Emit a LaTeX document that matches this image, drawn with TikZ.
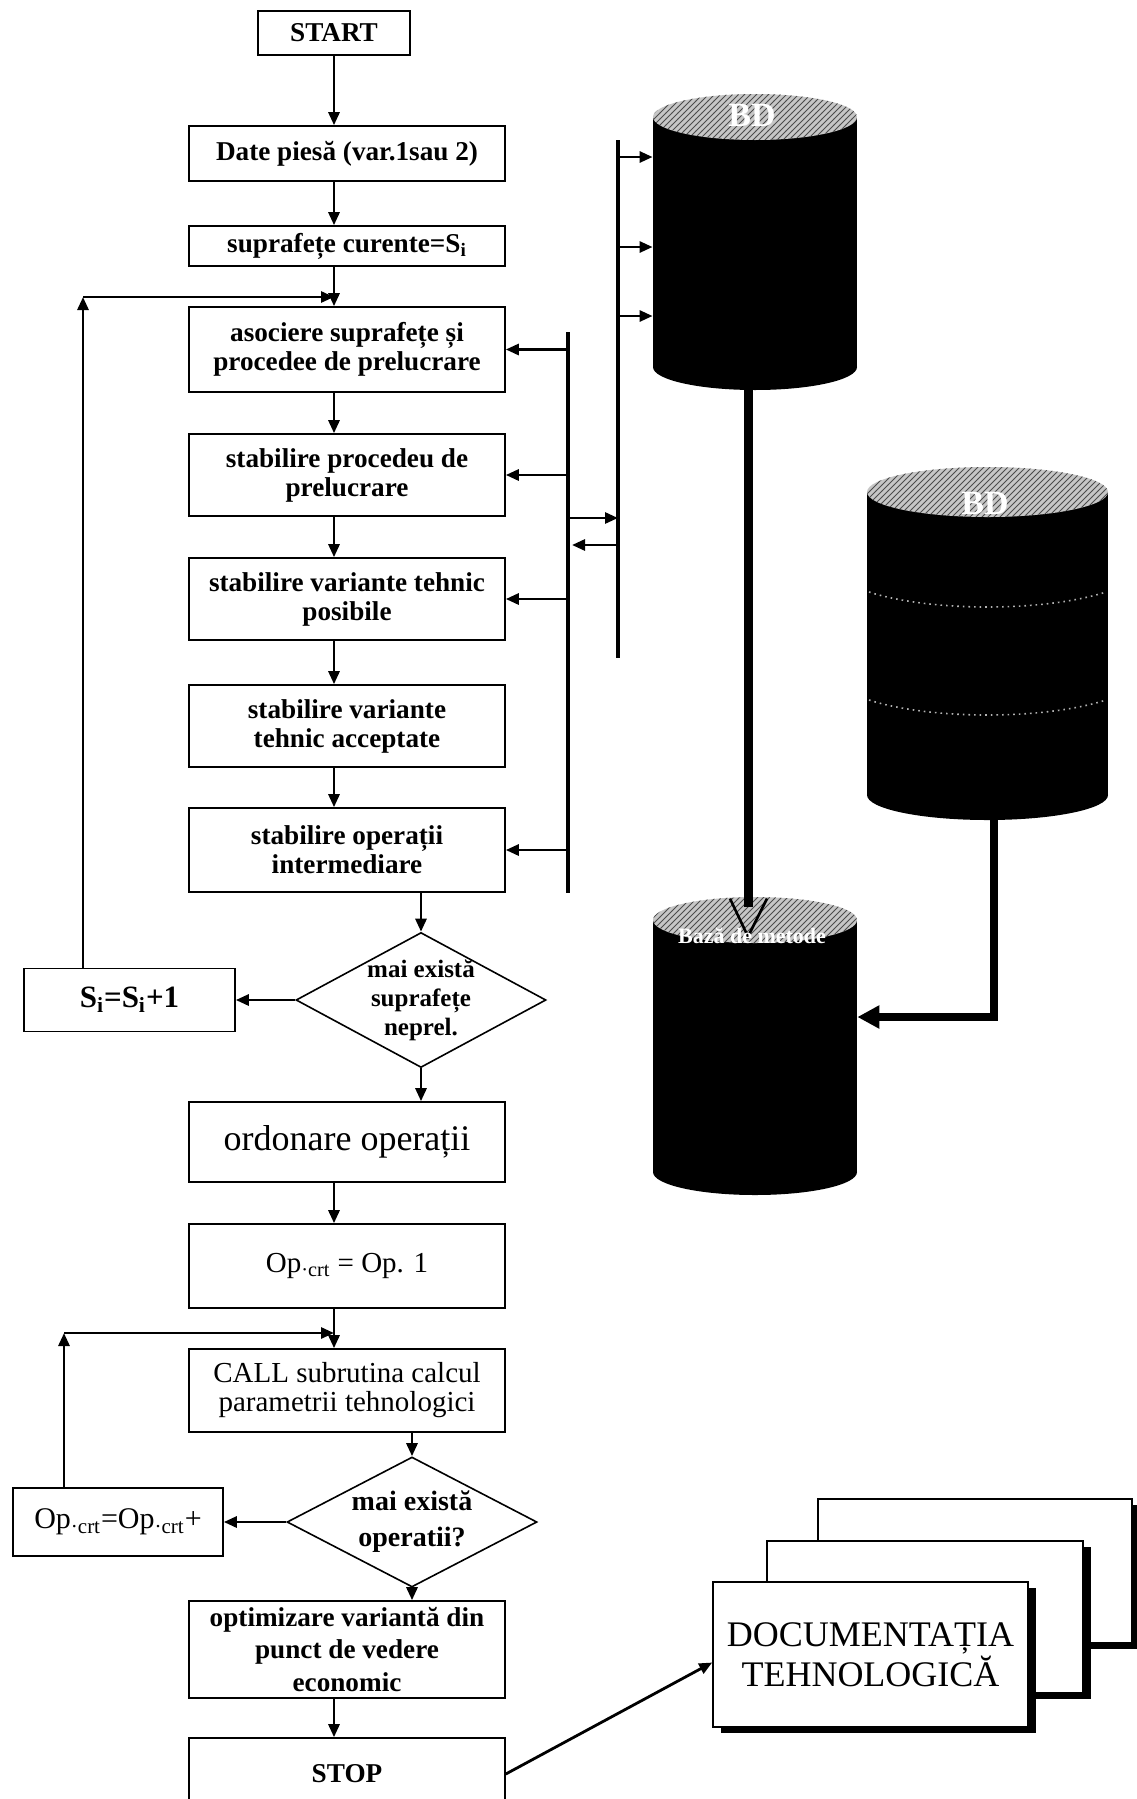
\documentclass[tikz,border=0pt]{standalone}
\usepackage{fontspec}
\setmainfont{Liberation Serif}
\usetikzlibrary{arrows.meta,shapes.geometric,shadows,patterns}

\begin{document}
\begin{tikzpicture}[x=0.5pt, y=-0.5pt, >={Triangle[length=6.5pt,width=5.5pt]},
	every node/.style={font=\fontsize{14.5}{14.5}\selectfont, align=center},
	heavy/.style={font=\bfseries\fontsize{13.6}{14.5}\selectfont},
	box/.style={draw, line width=0.8pt, fill=white, minimum width=158pt, inner sep=2pt},
	test/.style={draw, line width=0.8pt, shape=diamond, inner sep=0pt},
	flow/.style={->, line width=1.4pt},
	bus/.style={line width=1.6pt},
	pipe/.style={line width=4.5pt},
	sheet/.style={draw, line width=0.8pt, fill=white, minimum width=157pt, minimum height=72pt,
		drop shadow={shadow xshift=4pt, shadow yshift=-3pt, fill=black, opacity=1}}]
	\useasboundingbox (0,0) rectangle (1136,1799);
	% main column
	\node[box, heavy, minimum width=76pt, minimum height=22pt] (start) at (334,33) {START};
	\node[box, heavy, minimum height=27.5pt] (date) at (347,153.5) {Date piesă (var.1sau 2)};
	\node[box, heavy, minimum height=20pt] (supr) at (347,246) {suprafețe curente=S\textsubscript{i}};
	\node[box, heavy, minimum height=42.5pt] (asoc) at (347,349.5) {asociere suprafețe și\\procedee de prelucrare};
	\node[box, heavy, minimum height=41pt] (proc) at (347,475) {stabilire procedeu de\\prelucrare};
	\node[box, heavy, minimum height=41pt] (posib) at (347,599) {stabilire variante tehnic\\posibile};
	\node[box, heavy, minimum height=41pt] (accept) at (347,726) {stabilire variante\\tehnic acceptate};
	\node[box, heavy, minimum height=42pt] (interm) at (347,850) {stabilire operații\\intermediare};
	\node[test, minimum width=125pt, minimum height=67.5pt] (more1) at (421,1000) {};
	\node[font=\bfseries\fontsize{12.5}{14.5}\selectfont] (more1txt) at (more1) {mai există\\suprafețe\\neprel.};
	\node[box, minimum width=105.5pt, minimum height=31.5pt, font=\bfseries\fontsize{15.5}{16}\selectfont] (incs) at (129.5,1000) {S\textsubscript{i}=S\textsubscript{i}+1};
	\node[box, minimum height=40pt, font=\fontsize{18}{18}\selectfont] (order) at (347,1142) {ordonare operații};
	\node[box, minimum height=42pt] (opone) at (347,1266) {Op\textsubscript{·crt} = Op. 1};
	\node[box, minimum height=41.5pt] (call) at (347,1390.5) {CALL subrutina calcul\\parametrii tehnologici};
	\node[test, minimum width=125pt, minimum height=65pt] (more2) at (412,1522) {};
	\node[font=\bfseries\fontsize{14}{18}\selectfont] (more2txt) at (more2) {mai există\\operatii?};
	\node[box, minimum width=105pt, minimum height=34pt, font=\fontsize{15}{15}\selectfont] (incop) at (118,1522) {Op\textsubscript{·crt}=Op\textsubscript{·crt}+};
	\node[box, minimum height=48.5pt, font=\bfseries\fontsize{13.6}{16.4}\selectfont] (optim) at (347,1649.5) {optimizare variantă din\\punct de vedere\\economic};
	\node[box, heavy, minimum height=36pt] (stop) at (347,1774) {STOP};
	\coordinate (loop1) at (83,297);
	\coordinate (loop2) at (64,1333);
	\draw[flow] (start.south) -- (start.south |- date.north);
	\draw[flow] (date.south -| start) -- (supr.north -| start);
	\draw[flow] (supr.south -| start) -- (asoc.north -| start);
	\draw[flow] (incs.north -| loop1) -- (loop1);
	\draw[flow] (loop1) -- (loop1 -| start);
	\draw[flow] (asoc.south -| start) -- (proc.north -| start);
	\draw[flow] (proc.south -| start) -- (posib.north -| start);
	\draw[flow] (posib.south -| start) -- (accept.north -| start);
	\draw[flow] (accept.south -| start) -- (interm.north -| start);
	\draw[flow] (interm.south -| more1) -- (more1.north);
	\draw[flow] (more1.west) -- (incs.east);
	\draw[flow] (more1.south) -- (order.north -| more1);
	\draw[flow] (order.south -| start) -- (opone.north -| start);
	\draw[flow] (opone.south -| start) -- (call.north -| start);
	\draw[flow] (incop.north -| loop2) -- (loop2);
	\draw[flow] (loop2) -- (loop2 -| start);
	\draw[flow] (call.south -| more2) -- (more2.north);
	\draw[flow] (more2.west) -- (incop.east);
	\draw[flow] (more2.south) -- (optim.north -| more2);
	\draw[flow] (optim.south -| start) -- (stop.north -| start);
	% data buses
	\coordinate (busL) at (568,332);
	\coordinate (busR) at (618,140);
	\draw[bus] (busL) -- (568,893);
	\draw[bus] (busR) -- (618,658);
	\foreach \b in {asoc,proc,posib,interm}
		\draw[flow] (\b.east -| busL) -- (\b.east);
	\draw[flow] (busL |- 0,518) -- (busR |- 0,518);
	\draw[flow] (busR |- 0,545) -- ([xshift=2pt]busL |- 0,545);
	% data bases
	\node[minimum width=102pt, minimum height=148pt, inner sep=0pt] (bdA) at (755,242) {};
	\node[minimum width=120.5pt, minimum height=176.5pt, inner sep=0pt] (bdB) at (987.5,643.5) {};
	\node[minimum width=102pt, minimum height=149pt, inner sep=0pt] (bdC) at (755,1046) {};
	\fill (653,117) rectangle (857,367);
	\fill (755,367) ellipse [x radius=51pt, y radius=11.5pt];
	\fill[gray!45] (755,117) ellipse [x radius=51pt, y radius=11.5pt];
	\fill[pattern=north east lines, pattern color=black!70] (755,117) ellipse [x radius=51pt, y radius=11.5pt];
	\node[text=white, draw=none, font=\bfseries\fontsize{17}{17}\selectfont] (bdAlbl) at (752,115) {BD};
	\fill (867,492) rectangle (1108,795);
	\fill (987.5,795) ellipse [x radius=60.25pt, y radius=12.5pt];
	\fill[gray!45] (987.5,492) ellipse [x radius=60.25pt, y radius=12.5pt];
	\fill[pattern=north east lines, pattern color=black!70] (987.5,492) ellipse [x radius=60.25pt, y radius=12.5pt];
	\node[text=white, font=\bfseries\fontsize{17}{17}\selectfont] (bdBlbl) at (985,503) {BD};
	\draw[gray!60, dotted, line width=0.8pt] (869,592) .. controls (930,612) and (1045,612) .. (1106,592);
	\draw[gray!60, dotted, line width=0.8pt] (869,700) .. controls (930,720) and (1045,720) .. (1106,700);
	\fill (653,920) rectangle (857,1172);
	\fill (755,1172) ellipse [x radius=51pt, y radius=11.5pt];
	\fill[gray!45] (755,920) ellipse [x radius=51pt, y radius=11.5pt];
	\fill[pattern=north east lines, pattern color=black!70] (755,920) ellipse [x radius=51pt, y radius=11.5pt];
	\foreach \y in {157,247,316}
		\draw[flow] (busR |- 0,\y) -- (bdA.west |- 0,\y);
	\draw[pipe] ([xshift=-3.5pt]bdA.south) -- ([xshift=-3.5pt,yshift=-5pt]bdC.north);
	\draw[line width=1.3pt] ([xshift=-12.5pt,yshift=-1pt]bdC.north) -- ([xshift=-3.5pt,yshift=-20pt]bdC.north) -- ([xshift=6pt,yshift=-1pt]bdC.north);
	\node[text=white, font=\bfseries\fontsize{11}{11}\selectfont] (bdClbl) at (752,936) {Bază de metode};
	\draw[pipe, line width=4pt, -{Triangle[length=11pt,width=11pt]}] ([xshift=3.25pt]bdB.south) |- (bdC.east |- 0,1017);
	% output documents
	\node[sheet] (docback) at (975,1571) {};
	\node[sheet, minimum width=158pt, minimum height=76pt] (docmid) at (925,1617) {};
	\node[sheet, minimum width=157.5pt, minimum height=72.5pt, font=\fontsize{18}{16}\selectfont] (doc) at (870.5,1654.5) {DOCUMENTAȚIA\\TEHNOLOGICĂ};
	\draw[flow] (stop.east) -- ([yshift=-4pt]doc.west);
\end{tikzpicture}
\end{document}
